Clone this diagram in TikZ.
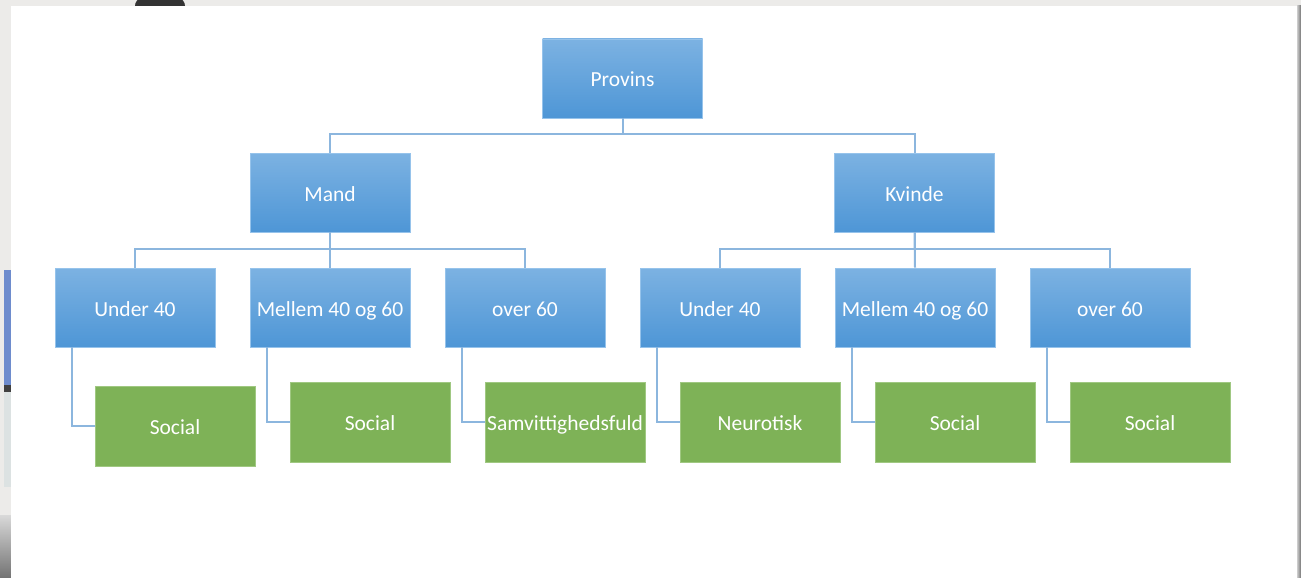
\documentclass[tikz,border=0pt]{standalone}
\usepackage{fontspec}
\setmainfont{Carlito}
\begin{document}
\begin{tikzpicture}[x=1pt,y=-1pt,
  bluebox/.style={rectangle, minimum width=160pt, minimum height=79pt, inner sep=0pt,
    draw=boxedge, line width=0.8pt, top color=bluetop, bottom color=bluebot, text=white,
    font=\fontsize{21.5}{25}\selectfont, text height=17pt, text depth=0pt},
  greenbox/.style={rectangle, minimum width=160pt, minimum height=80pt, inner sep=0pt,
    draw=greenedge, line width=0.8pt, fill=greenfill, text=white,
    font=\fontsize{21.5}{25}\selectfont, text height=17pt, text depth=0pt},
  conn/.style={draw=linecol, line width=2pt}
]
\definecolor{bluetop}{RGB}{124,178,226}
\definecolor{bluebot}{RGB}{78,150,214}
\definecolor{boxedge}{RGB}{150,195,235}
\definecolor{greenfill}{RGB}{126,178,87}
\definecolor{greenedge}{RGB}{160,200,130}
\definecolor{linecol}{RGB}{140,182,222}
\definecolor{bggray}{RGB}{236,235,233}
\definecolor{photoblue}{RGB}{110,140,205}
\definecolor{palegray}{RGB}{220,226,226}

% background (screenshot surroundings)
\useasboundingbox (0,0) rectangle (1301,578);
\fill[bggray] (0,0) rectangle (1301,578);
\fill[black!80] (160,6) ellipse (25 and 14);
\fill[photoblue] (4,270) rectangle (11,385);
\fill[black!75] (4,385) rectangle (11,392);
\fill[palegray] (4,392) rectangle (11,487);
\shade[top color=black!15,bottom color=black!55] (0,515) rectangle (11,578);
\shade[left color=black!20,right color=black!55] (1297,6) rectangle (1301,578);
\fill[white] (11,6) rectangle (1297,578);

% nodes
\node[bluebox] (prov) at (622.5,78.5) {Provins};
\node[bluebox] (mand) at (330,192.5) {Mand};
\node[bluebox] (kvin) at (914.5,192.5) {Kvinde};

\node[bluebox] (mu40) at (135,307.5) {Under 40};
\node[bluebox] (mm)   at (330,307.5) {Mellem 40 og 60};
\node[bluebox] (mo60) at (525,307.5) {over 60};
\node[bluebox] (ku40) at (720,307.5) {Under 40};
\node[bluebox] (km)   at (915,307.5) {Mellem 40 og 60};
\node[bluebox] (ko60) at (1110,307.5) {over 60};

\node[greenbox] (g1) at (175,426) {Social};
\node[greenbox] (g2) at (370,422) {Social};
\node[greenbox] (g3) at (565,422) {Samvittighedsfuld};
\node[greenbox] (g4) at (760,422) {Neurotisk};
\node[greenbox] (g5) at (955,422) {Social};
\node[greenbox] (g6) at (1150,422) {Social};

% connectors
\draw[conn] (prov.south) -- ++(0,16) -| (mand.north);
\draw[conn] (prov.south) ++(0,16) -| (kvin.north);
\draw[conn] (mand.south) -- ++(0,17) -| (mu40.north);
\draw[conn] (mand.south) ++(0,17) -| (mo60.north);
\draw[conn] (mand.south) -- (mm.north);
\draw[conn] (kvin.south) -- ++(0,17) -| (ku40.north);
\draw[conn] (kvin.south) ++(0,17) -| (ko60.north);
\draw[conn] (kvin.south) -- (km.north);
\foreach \p/\c in {mu40/g1, mm/g2, mo60/g3, ku40/g4, km/g5, ko60/g6}{
  \draw[conn] ([xshift=17pt]\p.south west) |- (\c.west);
}
\end{tikzpicture}
\end{document}
